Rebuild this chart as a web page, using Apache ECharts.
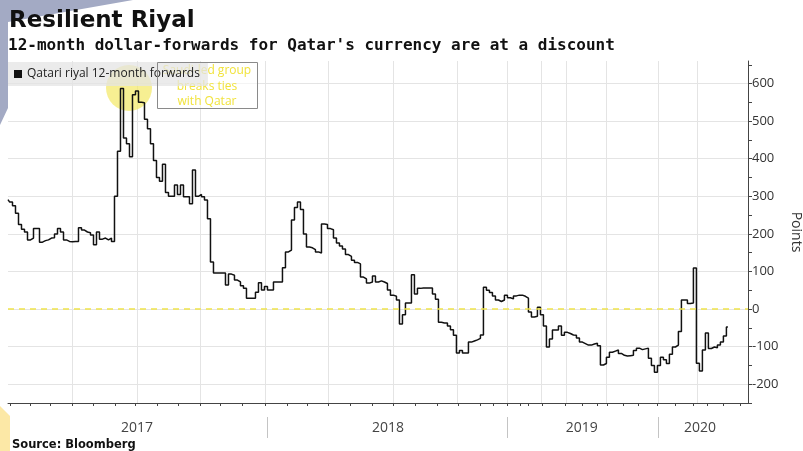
<!DOCTYPE html>
<html>
<head>
<meta charset="utf-8">
<title>Resilient Riyal</title>
<script src="https://cdn.jsdelivr.net/npm/echarts@6/dist/echarts.min.js"></script>
<style>
  html, body { margin: 0; padding: 0; background: #fff; }
  #chart { width: 803px; height: 451px; }
</style>
</head>
<body>
<div id="chart"></div>
<script>
// Qatari riyal 12-month forwards (points), one sample per step
var values2017 = [291, 285, 275, 255, 225, 212, 205, 184, 189, 214, 214, 178, 182, 184, 189, 190, 200, 214, 205, 184,
  180, 179, 180, 180, 216, 210, 205, 203, 197, 171, 205, 186, 189, 184, 189, 180,
  300, 420, 587, 455, 440, 405, 570, 580, 550, 549, 505, 480, 440, 395, 350, 340, 385, 310, 300, 300,
  330, 305, 330, 299, 299, 280, 370, 300, 305,
  299, 290, 240, 125, 96, 96, 96, 96, 64, 93, 90, 77, 72, 62, 55, 29, 29, 29, 45, 70, 51, 60]
var values2018 = [51, 51, 72, 72, 72, 110, 152, 157, 237, 270, 285,
  265, 200, 165, 163, 158, 152, 149, 226, 225, 214, 211, 189, 176, 168, 160, 145, 140, 130, 124, 120,
  85, 80, 69, 72, 88, 72, 75, 72, 68, 51, 37, 34, 24,
  -40, -15, 16, 16, 91, 40, 55, 56, 56, 56, 56, 40, 26, -35, -37, -37, -45, -55, -70, -117, -110, -117,
  -117, -88, -85, -82, -78, -69, 58, 50, 44, 35, 24, 20,
  24, 37]
var values2019 = [30, 27, 35, 37, 37, 34, 29, -8, -21, -19, 5, -15, -45, -101, -80, -56, -56, -45, -70, -62,
  -65, -69, -70, -77, -88, -92, -96, -96, -93, -91, -98,
  -149, -145, -128, -115, -112, -109, -118, -123, -125, -124, -123, -110, -104, -108, -106, -104, -131, -150, -168]
var values2020 = [-150, -128, -135, -145, -120, -101, -96, -60, 24, 24, 15, 16, 109, -144, -165, -109, -64, -105,
  -101, -103, -96, -88, -72, -48]

var allValues = values2017.concat(values2018, values2019, values2020)

// x axis is in sample steps; the original time axis is not evenly spaced
var xMax = 246.7
var monthTicks = [0.7, 7.3, 14, 21.3, 28.3, 35.7, 42.3, 49.7, 56.7, 64, 70.7, 78, 85.7, 93, 99.7, 106.7, 114,
  121.3, 128.3, 135.7, 143, 150, 157.3, 161.7, 166.3, 170.7, 173.3, 178, 185.7, 191.3, 196.3, 199.7, 205, 210,
  216.3, 222.3, 228.3, 233, 238.3, 244]
var quarterLines = [21.3, 43, 64, 85.7, 106.7, 128.3, 149.7, 166.3, 177.7, 186, 199.3, 216.7, 229.7]
var yearBreaks = [86.3, 166.3, 216.7]
var yearCenters = [43, 126.7, 191.3, 230.7]
var yearLabels = ['2017', '2018', '2019', '2020']

var yTicks = [-200, -100, 0, 100, 200, 300, 400, 500, 600]
var yMinorTicks = [-250, -150, -50, 50, 150, 250, 350, 450, 550, 650]

var chart = echarts.init(document.getElementById('chart'))

var seriesData = allValues.map(function(v, i) {
  return [i, v]
})

chart.setOption({
  animation: false,
  backgroundColor: '#fff',
  title: [{
    text: 'Resilient Riyal',
    left: 9,
    top: 10,
    padding: 0,
    textStyle: { fontFamily: 'DejaVu Sans', fontWeight: 'bold', fontSize: 23, color: '#111' }
  }, {
    text: "12-month dollar-forwards for Qatar's currency are at a discount",
    left: 8,
    top: 38,
    padding: 0,
    textStyle: { fontFamily: 'DejaVu Sans Mono', fontWeight: 'bold', fontSize: 16, color: '#111' }
  }, {
    text: 'Source: Bloomberg',
    left: 12,
    top: 439,
    padding: 0,
    textStyle: { fontFamily: 'DejaVu Sans', fontWeight: 'bold', fontSize: 11.5, color: '#111' }
  }],
  legend: {
    data: ['Qatari riyal 12-month forwards'],
    left: 8,
    top: 62,
    padding: [6, 8, 6, 6],
    icon: 'rect',
    itemWidth: 8,
    itemHeight: 8,
    backgroundColor: 'rgba(228,228,228,0.75)',
    textStyle: { fontFamily: 'Open Sans', fontSize: 12, color: '#222' }
  },
  grid: {
    left: 8,
    right: 55,
    top: 61,
    bottom: 48,
    containLabel: false,
    outerBoundsMode: 'none'
  },
  xAxis: [{
    type: 'value',
    min: 0,
    max: xMax,
    position: 'bottom',
    axisLine: { show: true, onZero: false, lineStyle: { color: '#444', width: 1 } },
    axisTick: { show: true, customValues: monthTicks, length: 3, lineStyle: { color: '#444' } },
    axisLabel: { show: false },
    splitLine: { show: false }
  }, {
    // quarterly grid lines only
    type: 'value',
    min: 0,
    max: xMax,
    position: 'top',
    axisLine: { show: false, onZero: false },
    axisTick: { show: false, customValues: quarterLines },
    axisLabel: { show: false },
    splitLine: { show: true, lineStyle: { color: '#e4e4e4', width: 1 } }
  }, {
    // year labels and separators under the axis
    type: 'value',
    min: 0,
    max: xMax,
    position: 'bottom',
    offset: 14,
    axisLine: { show: false, onZero: false },
    axisTick: { show: true, customValues: yearBreaks, length: 21, lineStyle: { color: '#c4c4c4' } },
    axisLabel: {
      show: true,
      customValues: yearCenters,
      margin: 4,
      fontFamily: 'Open Sans',
      fontSize: 14,
      color: '#444',
      formatter: function(v) {
        return yearLabels[yearCenters.indexOf(v)]
      }
    },
    splitLine: { show: false }
  }],
  yAxis: [{
    type: 'value',
    position: 'right',
    min: -250,
    max: 660,
    name: 'Points',
    nameLocation: 'middle',
    nameRotate: -90,
    nameGap: 40,
    nameTextStyle: { fontFamily: 'Open Sans', fontSize: 14, color: '#333' },
    axisLine: { show: true, onZero: false, lineStyle: { color: '#444', width: 1 } },
    axisTick: { show: true, customValues: yTicks.concat(yMinorTicks), length: 4, lineStyle: { color: '#444' } },
    axisLabel: {
      show: true,
      customValues: yTicks,
      margin: 4,
      fontFamily: 'Open Sans',
      fontSize: 13,
      color: '#333'
    },
    splitLine: { show: false }
  }, {
    // horizontal grid lines at the labelled values
    type: 'value',
    position: 'left',
    min: -250,
    max: 660,
    axisLine: { show: false, onZero: false },
    axisTick: { show: false, customValues: yTicks },
    axisLabel: { show: false },
    splitLine: { show: true, lineStyle: { color: '#e4e4e4', width: 1 } }
  }],
  graphic: [{
    // slide decoration, top left
    type: 'polygon',
    z: 0,
    shape: { points: [[0, 0], [133, 0], [8, 22], [8, 108], [0, 125]] },
    style: { fill: '#a3aac4' }
  }, {
    type: 'polygon',
    z: 0,
    shape: { points: [[0, 406], [10, 416], [10, 451], [0, 451]] },
    style: { fill: '#fce8a6' }
  }, {
    type: 'circle',
    z: 1,
    shape: { cx: 129, cy: 88, r: 23 },
    style: { fill: 'rgba(244,232,100,0.7)' }
  }, {
    type: 'rect',
    z: 1,
    shape: { x: 157, y: 62, width: 100, height: 46 },
    style: { fill: 'rgba(255,255,255,0.6)' }
  }, {
    type: 'text',
    z: 3,
    x: 207,
    y: 63,
    style: {
      text: 'Saudi-led group\nbreaks ties\nwith Qatar',
      align: 'center',
      verticalAlign: 'top',
      lineHeight: 15.5,
      font: '12px "Open Sans"',
      fill: '#f1e33c'
    }
  }, {
    type: 'rect',
    z: 10,
    shape: { x: 157.5, y: 62.5, width: 100, height: 46 },
    style: { fill: 'none', stroke: '#8a8a8a', lineWidth: 1 }
  }],
  series: [{
    name: 'Qatari riyal 12-month forwards',
    type: 'line',
    xAxisIndex: 0,
    yAxisIndex: 0,
    data: seriesData,
    step: 'middle',
    showSymbol: false,
    symbol: 'none',
    itemStyle: { color: '#111' },
    lineStyle: { color: '#111', width: 1.5 },
    markLine: {
      silent: true,
      symbol: 'none',
      label: { show: false },
      lineStyle: { color: '#f0e44a', type: [6, 5], width: 1.5 },
      data: [{ yAxis: 0 }]
    }
  }]
})
</script>
</body>
</html>
